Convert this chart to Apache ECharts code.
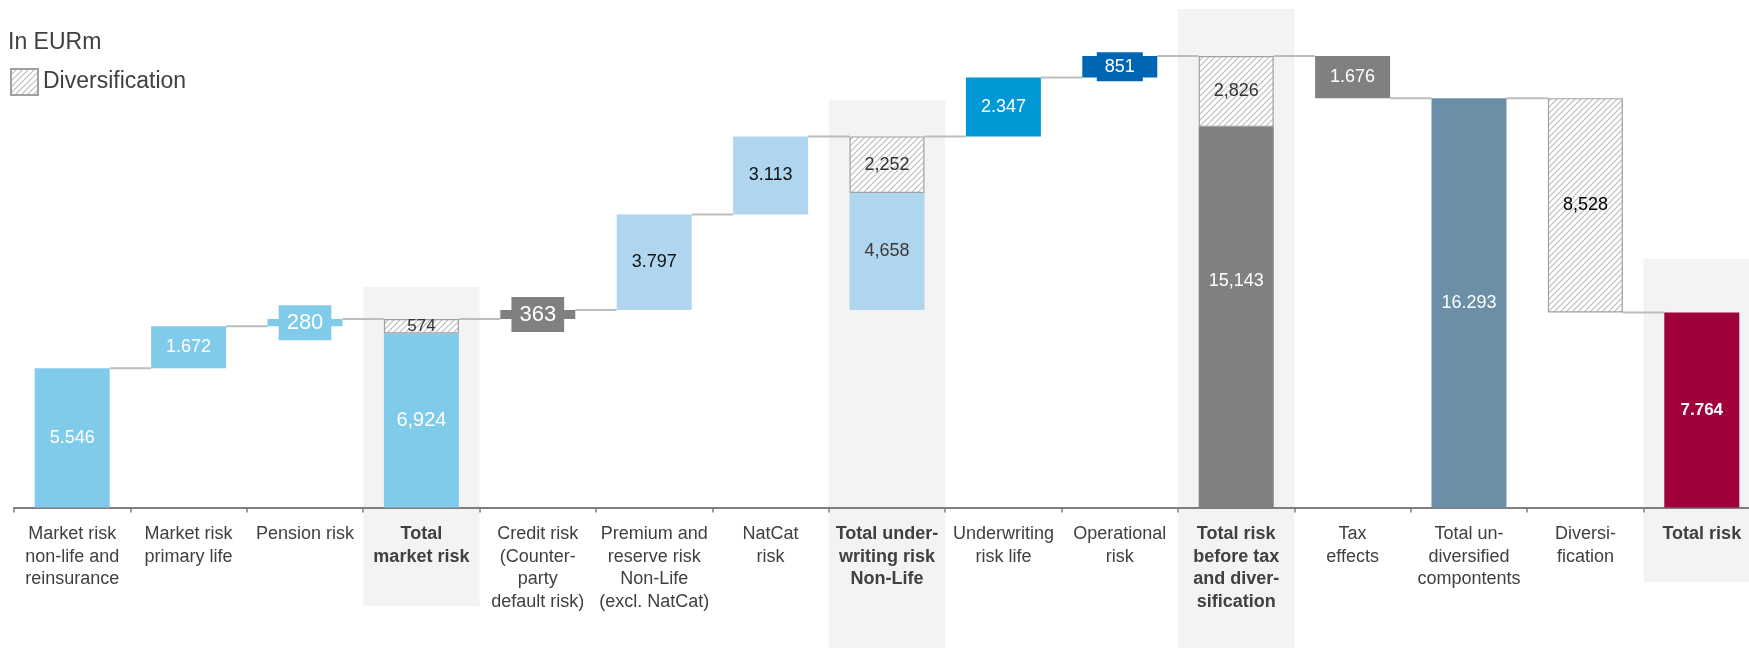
<!DOCTYPE html>
<html><head><meta charset="utf-8">
<script src="https://cdn.jsdelivr.net/npm/echarts@6/dist/echarts.min.js"></script>
<style>html,body{margin:0;padding:0;background:#fff;overflow:hidden}#c{width:1762px;height:648px}</style>
</head><body><div id="c"></div>
<script>
// ---------- data ----------
const categories = [
  'Market risk\nnon-life and\nreinsurance',
  'Market risk\nprimary life',
  'Pension risk',
  'Total\nmarket risk',
  'Credit risk\n(Counter-\nparty\ndefault risk)',
  'Premium and\nreserve risk\nNon-Life\n(excl. NatCat)',
  'NatCat\nrisk',
  'Total under-\nwriting risk\nNon-Life',
  'Underwriting\nrisk life',
  'Operational\nrisk',
  'Total risk\nbefore tax\nand diver-\nsification',
  'Tax\neffects',
  'Total un-\ndiversified\ncompontents',
  'Diversi-\nfication',
  'Total risk'
];
const solidValues = [5546, 1672, 280, 6924, 363, 3797, 3113, 4658, 2347, 851, 15143, -1676, 16293, 0, 7764];
const diversificationValues = [0, 0, 0, 574, 0, 0, 0, 2252, 0, 0, 2826, 0, 0, -8528, 0];
const barKinds = ['delta','delta','delta','total','delta','delta','delta','groupTotal','delta','delta','total','delta','total','delta','total'];
const solidLabels = ['5.546','1.672','280','6,924','363','3.797','3.113','4,658','2.347','851','15,143','1.676','16.293','','7.764'];
const diversificationLabels = ['','','','574','','','','2,252','','','2,826','','','8,528',''];
const totalCategoryIndex = [3, 7, 10, 14];

// ---------- styles ----------
const FONT = '"Liberation Sans", Arial, Helvetica, sans-serif';
const TEXT = '#404040';
const BAR_WIDTH = 75;
const GRID_LEFT = 14, GRID_WIDTH = 1746;
const C_LIGHT = '#80cbea', C_PALE = '#b0d5ee', C_MID = '#0099d6', C_DARK = '#0066b3',
      C_GRAY = '#808080', C_SLATE = '#6b8fa6', C_RED = '#a0003c';
const barColors = [C_LIGHT, C_LIGHT, C_LIGHT, C_LIGHT, C_GRAY, C_PALE, C_PALE, C_PALE, C_MID, C_DARK, C_GRAY, C_GRAY, C_SLATE, C_GRAY, C_RED];
const solidLabelStyle = {
  2: {fontSize: 22, padding: [7, 8, 6, 8], backgroundColor: C_LIGHT},
  3: {fontSize: 20},
  4: {fontSize: 22, padding: [7, 8, 6, 8], backgroundColor: C_GRAY},
  5: {color: '#111'},
  6: {color: '#111'},
  7: {color: '#3a3a3a'},
  9: {fontSize: 18, padding: [6, 8, 5, 8], backgroundColor: C_DARK},
  10: {offset: [0, -36]},
  14: {fontWeight: 'bold', fontSize: 17}
};
const divLabelStyle = {3: {fontSize: 17, color: '#333'}, 13: {color: '#000'}};
const shadeSpec = [{cat: 3, top: 287, bottom: 606}, {cat: 7, top: 100, bottom: 648}, {cat: 10, top: 9, bottom: 648}, {cat: 14, top: 259, bottom: 582}];

// hatch pattern
const pc = document.createElement('canvas');
pc.width = 6; pc.height = 6;
const g = pc.getContext('2d');
g.fillStyle = '#ffffff'; g.fillRect(0, 0, 6, 6);
g.strokeStyle = '#bdbdbd'; g.lineWidth = 1.2;
g.beginPath(); g.moveTo(-1, 7); g.lineTo(7, -1); g.moveTo(-1, 1); g.lineTo(1, -1); g.moveTo(5, 7); g.lineTo(7, 5); g.stroke();
const hatch = {image: pc, repeat: 'repeat'};

// ---------- waterfall computation ----------
const baseData = [], solidData = [], divData = [], levelAfter = [];
let running = 0;
for (let i = 0; i < categories.length; i++) {
  const s = solidValues[i], d = diversificationValues[i], sum = s + d;
  let base;
  if (barKinds[i] === 'total') { base = 0; running = sum; }
  else if (barKinds[i] === 'groupTotal') { base = running - sum; }
  else if (sum >= 0) { base = running; running += sum; }
  else { running += sum; base = running; }
  baseData.push(base);
  levelAfter.push(running);
  const st = solidLabelStyle[i] || {};
  solidData.push(s === 0 ? '-' : {
    value: Math.abs(s),
    itemStyle: {color: barColors[i]},
    label: Object.assign({show: true, position: 'inside', color: '#fff', fontSize: 18, fontFamily: FONT,
      formatter: solidLabels[i]}, st)
  });
  const dt = divLabelStyle[i] || {};
  divData.push(d === 0 ? '-' : {
    value: Math.abs(d),
    label: Object.assign({show: true, position: 'inside', color: '#333', fontSize: 18, fontFamily: FONT,
      formatter: diversificationLabels[i]}, dt)
  });
}
const connectorData = [];
for (let i = 0; i < categories.length - 1; i++) connectorData.push([i, levelAfter[i]]);

const chart = echarts.init(document.getElementById('c'), null, {renderer: 'canvas'});
const option = {
  animation: false,
  backgroundColor: '#fff',
  textStyle: {fontFamily: FONT},
  title: {text: 'In EURm', left: 3, top: 26, textStyle: {fontSize: 23, fontWeight: 'normal', color: TEXT, fontFamily: FONT}},
  legend: {data: ['Diversification'], left: 5, top: 63, itemWidth: 27, itemHeight: 26, icon: 'rect', selectedMode: false,
    textStyle: {fontSize: 23, color: TEXT, fontFamily: FONT}},
  grid: {left: GRID_LEFT, top: 5, width: GRID_WIDTH, height: 502.5},
  xAxis: {
    type: 'category', data: categories,
    axisLine: {lineStyle: {color: '#7f7f7f', width: 2}},
    axisTick: {show: true, length: 5, lineStyle: {color: '#7f7f7f', width: 1.5}},
    axisLabel: {
      interval: 0, margin: 15, color: TEXT, fontSize: 18, lineHeight: 22.7, fontFamily: FONT,
      formatter: function (v, i) {
        if (totalCategoryIndex.indexOf(i) >= 0) return v.split('\n').map(l => '{b|' + l + '}').join('\n');
        return v;
      },
      rich: {b: {fontWeight: 'bold', fontSize: 18, lineHeight: 22.7, color: TEXT, fontFamily: FONT}}
    }
  },
  yAxis: {type: 'value', min: 0, max: 20000, show: false},
  series: [
    {name: 'base', type: 'bar', stack: 'w', barWidth: BAR_WIDTH, data: baseData, silent: true,
      itemStyle: {color: 'rgba(0,0,0,0)'}, z: 2},
    {name: 'Value', type: 'bar', stack: 'w', barWidth: BAR_WIDTH, data: solidData, z: 3},
    {name: 'Diversification', type: 'bar', stack: 'w', barWidth: BAR_WIDTH, data: divData, z: 3,
      itemStyle: {color: hatch, borderColor: '#a0a0a0', borderWidth: 1.2}},
    {name: 'connector', type: 'custom', data: connectorData, silent: true, z: 1,
      encode: {x: 0, y: 1},
      renderItem: function (params, api) {
        const i = api.value(0), lvl = api.value(1);
        const p1 = api.coord([i, lvl]), p2 = api.coord([i + 1, lvl]);
        const hw = BAR_WIDTH / 2;
        return {type: 'line', shape: {x1: p1[0] + hw, y1: p1[1], x2: p2[0] - hw, y2: p2[1]},
          style: {stroke: '#bdbdbd', lineWidth: 2}};
      }}
  ]
};
chart.setOption(option);

// shaded total columns
const catW = GRID_WIDTH / categories.length;
const graphics = shadeSpec.map(s => {
  const cx = chart.convertToPixel({xAxisIndex: 0}, s.cat);
  return {type: 'rect', z: -10, silent: true,
    shape: {x: cx - catW / 2, y: s.top, width: catW, height: s.bottom - s.top},
    style: {fill: '#f3f3f3'}};
});
chart.setOption({graphic: graphics});
</script></body></html>
